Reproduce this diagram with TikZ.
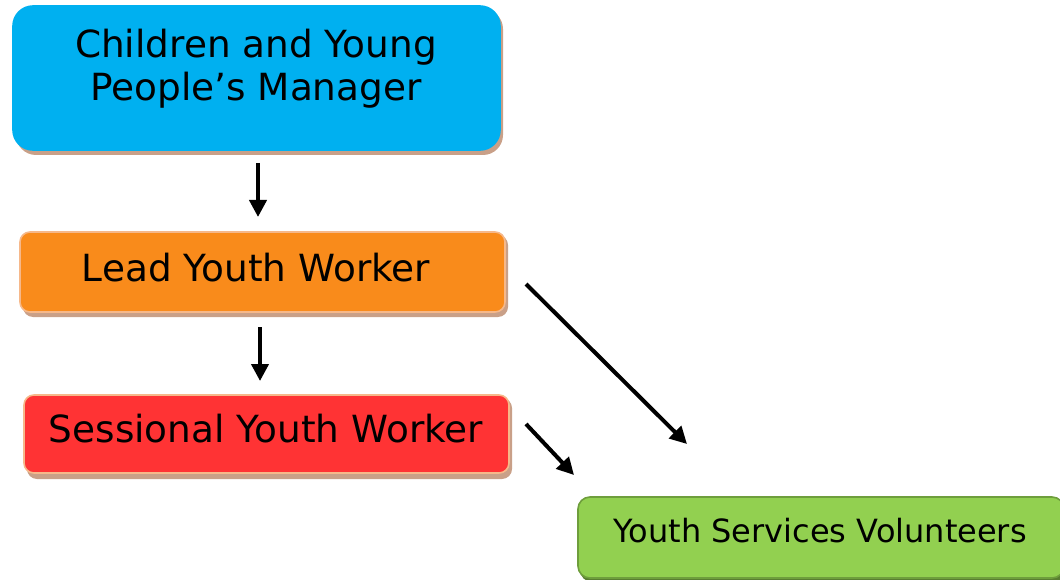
\documentclass[tikz,border=0pt]{standalone}
\usepackage{fontspec}
\setmainfont{DejaVu Sans}
\usetikzlibrary{arrows.meta}
\definecolor{cblue}{HTML}{00B0F0}
\definecolor{corange}{HTML}{F98B1B}
\definecolor{cred}{HTML}{FF3334}
\definecolor{cgreen}{HTML}{92D050}
\definecolor{cgreenedge}{HTML}{6E9E3C}
\definecolor{cpeach}{HTML}{F6B88A}
\definecolor{cshadow}{HTML}{C9A088}
\tikzset{
  box/.style={rectangle, inner sep=0pt, line width=1.6pt},
  lbl/.style={inner sep=0pt, anchor=base, font=\fontsize{37.4}{44}\selectfont},
  conn/.style={line width=4pt, -{Triangle[length=17pt,width=17pt]}},
}
\begin{document}
\begin{tikzpicture}[x=1pt,y=-1pt]
\useasboundingbox (0,0) rectangle (1060,580);
% shadows
\fill[cshadow, rounded corners=20pt] (16,9) rectangle (503,155);
\fill[cshadow, rounded corners=10pt] (23,235) rectangle (508,317);
\fill[cshadow, rounded corners=10pt] (27,398) rectangle (512,479);
\fill[cgreenedge!80!black, rounded corners=12pt] (580,500) rectangle (1066,582);
% boxes
\node[box, fill=cblue, draw=cblue, rounded corners=20pt, minimum width=487pt, minimum height=144pt] (cm) at (256.5,78) {};
\node[box, fill=corange, draw=cpeach, rounded corners=10pt, minimum width=485pt, minimum height=80pt] (ly) at (262.5,272) {};
\node[box, fill=cred, draw=cpeach, rounded corners=10pt, minimum width=485pt, minimum height=78pt] (sy) at (266.5,434) {};
\node[box, fill=cgreen, draw=cgreenedge, rounded corners=12pt, minimum width=486pt, minimum height=81pt] (yv) at (821,537.5) {};
% labels
\node[lbl] (cmt1) at (256,58) {Children and Young};
\node[lbl] (cmt2) at (256,101) {People’s Manager};
\node[lbl] (lyt) at (256,281) {Lead Youth Worker};
\node[lbl] (syt) at (266,442) {Sessional Youth Worker};
\node[lbl, font=\fontsize{32}{38}\selectfont] (yvt) at (820,542) {Youth Services Volunteers};
% connector ends
\coordinate (a1) at (258,163);
\coordinate (a2) at (258,217);
\coordinate (b1) at (260,327);
\coordinate (b2) at (260,381);
\coordinate (c1) at (526,284);
\coordinate (c2) at (687,444);
\coordinate (d1) at (526,424);
\coordinate (d2) at (574,475);
\draw[conn] (a1) -- (a2);
\draw[conn] (b1) -- (b2);
\draw[conn] (c1) -- (c2);
\draw[conn] (d1) -- (d2);
\end{tikzpicture}
\end{document}
